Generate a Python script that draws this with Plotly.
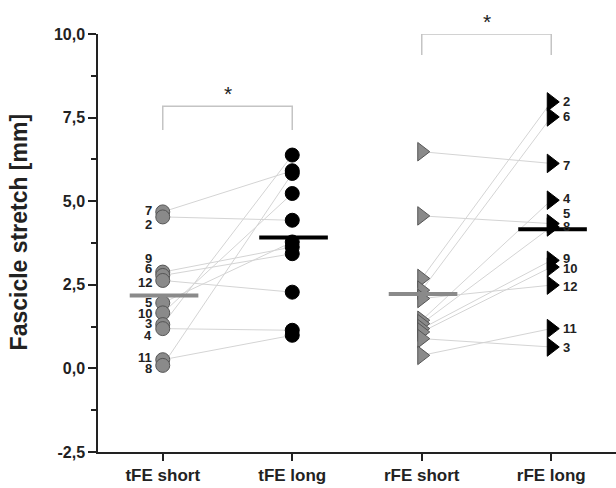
import numpy as np
import plotly.graph_objects as go

# ---- data ----
categories = ["tFE short", "tFE long", "rFE short", "rFE long"]
y_tick_vals = [-2.5, 0.0, 2.5, 5.0, 7.5, 10.0]
y_tick_labels = ["-2,5", "0,0", "2,5", "5,0", "7,5", "10,0"]

subjects_tfe = [7, 2, 9, 6, 12, 5, 10, 3, 4, 11, 8]
tfe_short = [4.68, 4.53, 2.88, 2.78, 2.63, 1.96, 1.66, 1.31, 1.19, 0.26, 0.09]
tfe_long = [5.91, 4.43, 3.63, 3.43, 2.28, 3.78, 5.23, 6.38, 1.14, 0.99, 5.83]

subjects_rfe = [7, 5, 2, 6, 12, 4, 8, 9, 10, 3, 11]
rfe_short = [6.48, 4.56, 2.69, 2.34, 2.09, 1.44, 1.34, 1.19, 1.09, 0.89, 0.39]
rfe_long = [6.13, 4.33, 7.97, 7.52, 2.49, 5.03, 4.23, 3.23, 3.03, 0.64, 1.19]

# label nudges in pixels (style only)
tfe_label_nudge = [1, -8, 14, 7, -2, 0, -1, 1, -7, 2, -3]
rfe_label_nudge = [-2, 10, 0, 0, -1, 2, 0, 2, -1, 0, 0]

significance = ["*", "*"]

FONT = "Liberation Sans, Arial, sans-serif"
LINE_COL = "#d4d4d4"
GRAY = "#8a8a8a"
GRAY_EDGE = "#555555"

fig = go.Figure()

# connecting lines
for a, b in zip(tfe_short, tfe_long):
    fig.add_trace(go.Scatter(x=[0, 1], y=[a, b], mode="lines",
                             line=dict(color=LINE_COL, width=1), hoverinfo="skip"))
for a, b in zip(rfe_short, rfe_long):
    fig.add_trace(go.Scatter(x=[2, 3], y=[a, b], mode="lines",
                             line=dict(color=LINE_COL, width=1), hoverinfo="skip"))

# markers
fig.add_trace(go.Scatter(x=[0] * len(tfe_short), y=tfe_short, mode="markers",
                         marker=dict(symbol="circle", size=14, color=GRAY,
                                     line=dict(color=GRAY_EDGE, width=1))))
fig.add_trace(go.Scatter(x=[1] * len(tfe_long), y=tfe_long, mode="markers",
                         marker=dict(symbol="circle", size=14, color="black",
                                     line=dict(color="black", width=1))))
fig.add_trace(go.Scatter(x=[2] * len(rfe_short), y=rfe_short, mode="markers",
                         marker=dict(symbol="triangle-right", size=16, color=GRAY,
                                     line=dict(color=GRAY_EDGE, width=1))))
fig.add_trace(go.Scatter(x=[3] * len(rfe_long), y=rfe_long, mode="markers",
                         marker=dict(symbol="triangle-right", size=16, color="black",
                                     line=dict(color="black", width=1))))

# mean bars
series = [tfe_short, tfe_long, rfe_short, rfe_long]
bar_cols = [GRAY, "black", GRAY, "black"]
for i, (vals, col) in enumerate(zip(series, bar_cols)):
    m = float(np.mean(vals))
    fig.add_trace(go.Scatter(x=[i - 0.255, i + 0.275], y=[m, m], mode="lines",
                             line=dict(color=col, width=4), hoverinfo="skip"))

annotations = []
for s, v, dy in zip(subjects_tfe, tfe_short, tfe_label_nudge):
    annotations.append(dict(x=0, y=v, xref="x", yref="y", text="<b>%d</b>" % s, showarrow=False,
                            xanchor="right", yanchor="middle", xshift=-9, yshift=dy,
                            font=dict(family=FONT, size=13, color="#222222")))
for s, v, dy in zip(subjects_rfe, rfe_long, rfe_label_nudge):
    annotations.append(dict(x=3, y=v, xref="x", yref="y", text="<b>%d</b>" % s, showarrow=False,
                            xanchor="left", yanchor="middle", xshift=10, yshift=dy,
                            font=dict(family=FONT, size=13, color="#222222")))

# significance brackets
brackets = [(0, 1, 7.13, 7.84), (2, 3, 9.37, 10.0)]
shapes = []
for (x0, x1, ylo, yhi), star in zip(brackets, significance):
    shapes.append(dict(type="path", xref="x", yref="y",
                       path="M %f,%f L %f,%f L %f,%f L %f,%f" % (x0, ylo, x0, yhi, x1, yhi, x1, ylo),
                       line=dict(color="#c4c4c4", width=1.5)))
    annotations.append(dict(x=(x0 + x1) / 2, y=yhi, xref="x", yref="y", text=star,
                            showarrow=False, yanchor="bottom", yshift=-1,
                            font=dict(family=FONT, size=21, color="#222222")))

annotations.append(dict(x=-0.152, y=0.526, xref="paper", yref="paper", xanchor="center",
                        yanchor="middle", text="<b>Fascicle stretch [mm]</b>", textangle=-90,
                        showarrow=False, font=dict(family=FONT, size=23, color="#222222")))

fig.update_layout(
    width=616, height=488,
    margin=dict(l=98, r=0, t=34, b=36),
    plot_bgcolor="white", paper_bgcolor="white",
    showlegend=False,
    shapes=shapes,
    annotations=annotations,
    xaxis=dict(range=[-0.5, 3.5], tickvals=[0, 1, 2, 3], ticktext=["<b>%s</b>" % c for c in categories],
               ticks="outside", ticklen=7, tickwidth=1.5, tickcolor="#222",
               showline=True, linecolor="#222", linewidth=1.5, showgrid=False, zeroline=False,
               tickfont=dict(family=FONT, size=17, color="#222")),
    yaxis=dict(range=[-2.5, 10], tickvals=y_tick_vals, ticktext=["<b>%s</b>" % t for t in y_tick_labels],
               ticks="outside", ticklen=8, tickwidth=1.5, tickcolor="#222",
               minor=dict(dtick=1.25, tick0=0, ticks="outside", ticklen=5, tickwidth=1.5, tickcolor="#222"),
               showline=True, linecolor="#222", linewidth=1.5, showgrid=False, zeroline=False,
               tickfont=dict(family=FONT, size=16, color="#222")),
)

fig.write_html("out.html", config={"displayModeBar": False},
               post_script="document.body.style.margin='0';")
